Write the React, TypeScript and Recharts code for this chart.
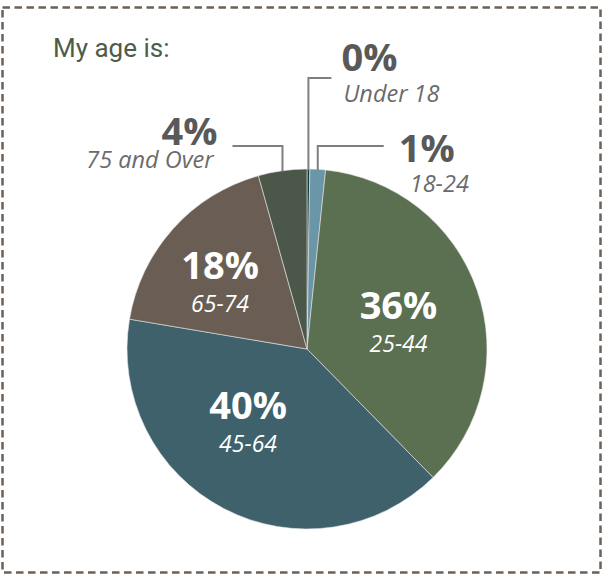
import React from 'react';
import { PieChart, Pie, Cell, Customized } from 'recharts';

const categories = ['Under 18', '18-24', '25-44', '45-64', '65-74', '75 and Over'];
const shares = [0.25, 1.4, 36, 40, 18, 4.35];
const colors = ['#123d3e', '#6a96a8', '#5b6f51', '#3e616c', '#6a5e54', '#4b5849'];

const data = categories.map((name, i) => ({ name, value: shares[i] }));

const RAD = Math.PI / 180;
const LABEL_FONT = '"Open Sans", "Noto Sans", sans-serif';

// inside label placement tweaks (angle shift in degrees, radius factor)
const inside: Record<number, { da: number; rf: number }> = {
  2: { da: -2.8, rf: 0.53 },
  3: { da: -11.5, rf: 0.52 },
  4: { da: 4.3, rf: 0.61 },
};
// outside label layout: elbow height, horizontal run, side, text offsets
const outside: Record<number, { ey: number; run: number; side: 1 | -1; tx: number; sx: number; py: number; sy: number }> = {
  0: { ey: 78, run: 23, side: 1, tx: 10, sx: 12, py: -7, sy: 24 },
  1: { ey: 146, run: 66, side: 1, tx: 15, sx: 26, py: 16, sy: 46 },
  5: { ey: 146, run: 50, side: -1, tx: 15, sx: 19, py: -1, sy: 22 },
};

const renderLabel = (props: any) => {
  const { cx, cy, midAngle, outerRadius, index, value } = props;
  const pct = `${Math.round(value)}%`;
  const name = categories[index];
  if (inside[index]) {
    const { da, rf } = inside[index];
    const a = (midAngle + da) * RAD;
    const x = cx + outerRadius * rf * Math.cos(a);
    const y = cy - outerRadius * rf * Math.sin(a);
    return (
      <g key={`l${index}`}>
        <text x={x} y={y - 3} textAnchor="middle" fill="#ffffff" fontFamily={LABEL_FONT} fontWeight={700} fontSize={38}>
          {pct}
        </text>
        <text x={x} y={y + 30} textAnchor="middle" fill="#ffffff" fontFamily={LABEL_FONT} fontStyle="italic" fontSize={23}>
          {name}
        </text>
      </g>
    );
  }
  const o = outside[index];
  const a = midAngle * RAD;
  const px = cx + outerRadius * Math.cos(a);
  const py = cy - outerRadius * Math.sin(a);
  const ex = px + o.side * o.run;
  const anchor = o.side === 1 ? 'start' : 'end';
  return (
    <g key={`l${index}`}>
      <polyline points={`${px},${py + 1} ${px},${o.ey} ${ex},${o.ey}`} fill="none" stroke="#7f7f7f" strokeWidth={2} />
      <text x={ex + o.side * o.tx} y={o.ey + o.py} textAnchor={anchor} fill="#595959" fontFamily={LABEL_FONT} fontWeight={700} fontSize={38}>
        {pct}
      </text>
      <text x={ex + o.side * o.sx} y={o.ey + o.sy} textAnchor={anchor} fill="#6b6b6b" fontFamily={LABEL_FONT} fontStyle="italic" fontSize={23.5}>
        {name}
      </text>
    </g>
  );
};

const Frame = () => (
  <g>
    <rect x={2.5} y={7.5} width={598} height={565} fill="none" stroke="#6b6158" strokeWidth={2.5} strokeDasharray="7.5 4.5" />
    <text x={53} y={57} fill="#4e5c4a" fontFamily="Roboto, sans-serif" fontSize={26}>
      My age is:
    </text>
  </g>
);

export default function App() {
  return (
    <div style={{ position: 'absolute', left: 0, top: 0, width: 605, height: 576, background: '#ffffff' }}>
      <PieChart width={605} height={576} margin={{ top: 0, right: 0, bottom: 0, left: 0 }}>
        <Customized component={Frame} />
        <Pie
          data={data}
          dataKey="value"
          nameKey="name"
          cx={307}
          cy={349}
          outerRadius={180}
          startAngle={90}
          endAngle={-270}
          stroke="#e6e6e6"
          strokeWidth={0.6}
          label={renderLabel}
          labelLine={false}
          isAnimationActive={false}
        >
          {data.map((d, i) => (
            <Cell key={d.name} fill={colors[i]} />
          ))}
        </Pie>
      </PieChart>
    </div>
  );
}
